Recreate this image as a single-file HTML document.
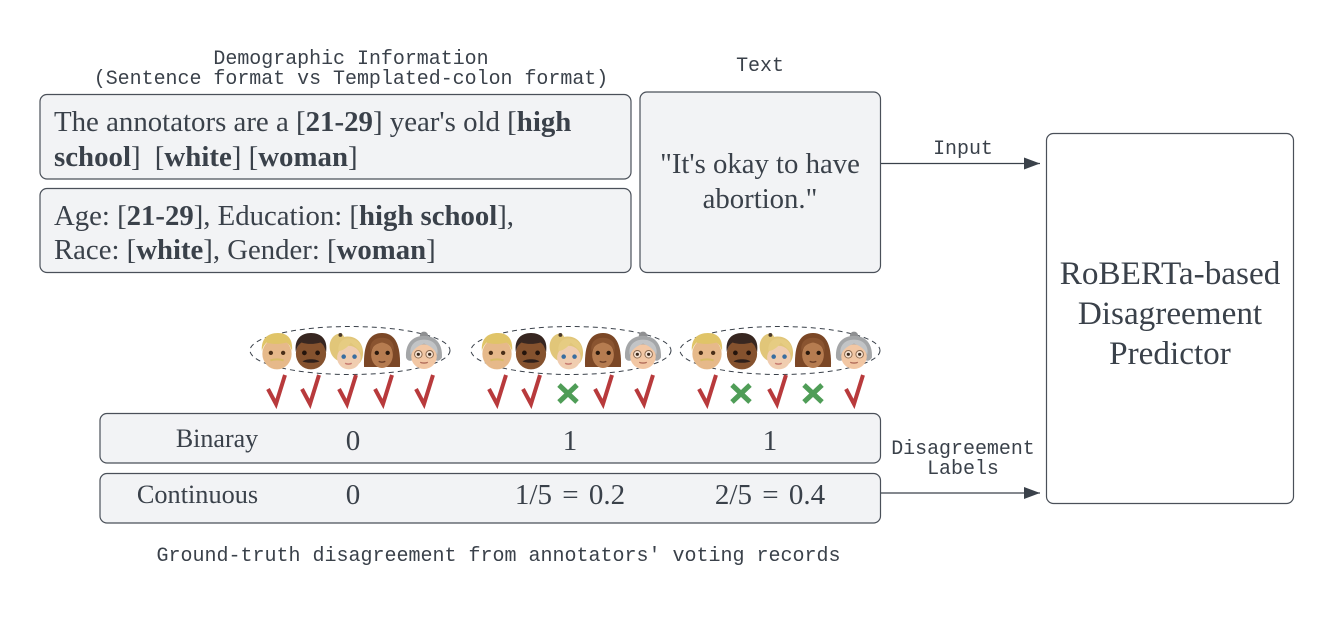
<!DOCTYPE html>
<html>
<head>
<meta charset="utf-8">
<style>
html,body{margin:0;padding:0;background:#fff;}
svg{display:block;}
.mono{font-family:"Liberation Mono",monospace;font-size:19.95px;fill:#3a414a;}
.serif{font-family:"Liberation Serif",serif;fill:#3a414a;}
.box{fill:#f2f3f5;stroke:#4a5059;stroke-width:1.2;}
.b{font-weight:bold;}
</style>
</head>
<body>
<svg id="diagram" width="1333" height="621" viewBox="0 0 1333 621" xmlns="http://www.w3.org/2000/svg">
<defs>
<symbol id="face-0" viewBox="0 0 36 40" overflow="visible">
  <ellipse cx="18" cy="23" rx="15.500" ry="16.500" fill="#e6b98a"/>
  <path d="M2 20C1 7 8 1 19 1S35 8 34 20C32 15 31 13 28 11 22 13 12 13 7 11 5 13 3 16 2 20Z" fill="#e0c468"/>
  <circle cx="11.500" cy="22" r="2.300" fill="#4a2f18"/><circle cx="24.500" cy="22" r="2.300" fill="#4a2f18"/>
  <path d="M11 30c4-1.500 10-1.500 14 0" stroke="#d8bc66" stroke-width="2.200" fill="none"/>
</symbol>
<symbol id="face-1" viewBox="0 0 36 40" overflow="visible">
  <ellipse cx="18" cy="23" rx="16" ry="16.500" fill="#85522e"/>
  <path d="M2 21C0 7 8 1 18 1s18 6 16 20C32 15 31 13 28 11 22 13 13 13 8 11 5 13 3 16 2 21Z" fill="#372620"/>
  <circle cx="11" cy="22" r="2.500" fill="#24140c"/><circle cx="25" cy="22" r="2.500" fill="#24140c"/>
  <path d="M9 31c4-3 14-3 18 0-4 2-14 2-18 0Z" fill="#2f201a"/>
</symbol>
<symbol id="face-2" viewBox="0 0 36 40" overflow="visible">
  <path d="M0 19C-2 9 4 3 8 2 12 0 14 3 15 5 26 3 35 10 35 22 35 30 31 34 29 34L8 30C4 28 1 24 0 19Z" fill="#e1c679"/>
  <ellipse cx="20" cy="27" rx="12.500" ry="12.500" fill="#f0cdb0"/>
  <path d="M9 20C14 20 20 15 22 11 26 15 31 18 33 23 36 12 26 5 16 7 11 9 8 14 9 20Z" fill="#e6cc82"/>
  <circle cx="14.500" cy="26" r="2.400" fill="#3a6ea0"/><circle cx="26" cy="26" r="2.400" fill="#3a6ea0"/>
  <path d="M16 33c2 1.200 5 1.200 7 0" stroke="#c87b70" stroke-width="1.500" fill="none"/>
  <circle cx="11" cy="3" r="2" fill="#4a3a2a"/>
</symbol>
<symbol id="face-3" viewBox="0 0 36 40" overflow="visible">
  <path d="M-1 37C-2 12 5 1 18 1s20 11 19 36Z" fill="#7b4726"/>
  <ellipse cx="18" cy="24" rx="11.500" ry="14" fill="#b67c50"/>
  <path d="M6 21C8 14 13 12 18 11c5 1 10 3 12 10 2-9-3-15-12-15S4 12 6 21Z" fill="#8a5430"/>
  <circle cx="12.500" cy="22" r="2.300" fill="#2b1a0e"/><circle cx="24" cy="22" r="2.300" fill="#2b1a0e"/>
  <path d="M14.500 31c2 1 5 1 7 0" stroke="#6a3d26" stroke-width="1.500" fill="none"/>
</symbol>
<symbol id="face-4" viewBox="0 0 36 40" overflow="visible">
  <circle cx="18" cy="4" r="4.500" fill="#8f9092"/>
  <path d="M-1 27C-2 12 6 4 18 4s20 8 19 23c-2 3-4 4-6 3H5C3 31 0 30-1 27Z" fill="#a4a6a8"/>
  <ellipse cx="18" cy="26" rx="13.500" ry="13" fill="#f2c7a4"/>
  <path d="M4 24C7 17 13 14 18 12c5 2 11 5 14 12 2-8-3-16-14-16S2 16 4 24Z" fill="#c2c4c6"/>
  <circle cx="12" cy="23.500" r="4" fill="#f8e4d4" stroke="#8a6a50"/><circle cx="24" cy="23.500" r="4" fill="#f8e4d4" stroke="#8a6a50"/>
  <circle cx="12" cy="23.500" r="1.700" fill="#3a2a1e"/><circle cx="24" cy="23.500" r="1.700" fill="#3a2a1e"/>
  <path d="M14 32c2 1 6 1 8 0" stroke="#b06a58" stroke-width="1.400" fill="none"/>
</symbol>
<marker id="arrow-head" viewBox="0 0 16 12" refX="16" refY="6" markerWidth="16" markerHeight="12" markerUnits="userSpaceOnUse" orient="auto">
  <path d="M0 0L16 6L0 12Z" fill="#3a414a"/>
</marker>
</defs>

<text class="mono" x="351" y="64" text-anchor="middle">Demographic Information</text>
<text class="mono" x="351" y="84" text-anchor="middle">(Sentence format vs Templated-colon format)</text>
<text class="mono" x="760" y="71" text-anchor="middle">Text</text>

<rect class="box" x="40" y="94.500" width="591" height="84.500" rx="7"/>
<text class="serif" x="54" y="131" font-size="28.860">The annotators are a [<tspan class="b">21-29</tspan>] year's old [<tspan class="b">high</tspan></text>
<text class="serif" x="54" y="166" font-size="28.860"><tspan class="b">school</tspan>]  <tspan dx="7">[</tspan><tspan class="b">white</tspan>] [<tspan class="b">woman</tspan>]</text>

<rect class="box" x="40" y="188.500" width="591" height="84" rx="7"/>
<text class="serif" x="54" y="225" font-size="28.750">Age: [<tspan class="b">21-29</tspan>], Education: [<tspan class="b">high school</tspan>],</text>
<text class="serif" x="54" y="259" font-size="28.750">Race: [<tspan class="b">white</tspan>], Gender: [<tspan class="b">woman</tspan>]</text>

<rect class="box" x="640" y="92" width="240.500" height="180.500" rx="7"/>
<text class="serif" x="760" y="173" font-size="28.750" text-anchor="middle">"It's okay to have</text>
<text class="serif" x="760" y="208" font-size="28.750" text-anchor="middle">abortion."</text>

<line x1="881" y1="163.500" x2="1040" y2="163.500" stroke="#3a414a" stroke-width="1.200" marker-end="url(#arrow-head)"/>
<text class="mono" x="963" y="154" text-anchor="middle">Input</text>

<rect x="1046.500" y="133.500" width="247" height="370" rx="7" fill="#fff" stroke="#4a5059" stroke-width="1.200"/>
<text class="serif" x="1170" y="284" font-size="33.200" text-anchor="middle">RoBERTa-based</text>
<text class="serif" x="1170" y="324" font-size="33.200" text-anchor="middle">Disagreement</text>
<text class="serif" x="1170" y="364" font-size="33.200" text-anchor="middle">Predictor</text>

<g id="voters"></g>

<rect class="box" x="100" y="413.500" width="780.500" height="49.500" rx="7"/>
<text class="serif" x="217" y="447" font-size="26" text-anchor="middle">Binaray</text>
<rect class="box" x="100" y="473.500" width="780.500" height="49.500" rx="7"/>
<text class="serif" x="197.500" y="503" font-size="26.300" text-anchor="middle">Continuous</text>
<g id="row-values"></g>

<line x1="881" y1="493" x2="1040" y2="493" stroke="#3a414a" stroke-width="1.200" marker-end="url(#arrow-head)"/>
<text class="mono" x="963" y="454" text-anchor="middle">Disagreement</text>
<text class="mono" x="963" y="474" text-anchor="middle">Labels</text>

<text class="mono" x="498.500" y="561" text-anchor="middle" style="font-size:20px">Ground-truth disagreement from annotators' voting records</text>
</svg>
<script>
var voteGroupOne = [1, 1, 1, 1, 1];
var voteGroupTwo = [1, 1, 0, 1, 1];
var voteGroupThree = [1, 0, 1, 0, 1];
var binaryValues = ['0', '1', '1'];
var continuousValues = ['0', '1/5 = 0.2', '2/5 = 0.4'];

var NS = 'http://www.w3.org/2000/svg';
var voters = document.getElementById('voters');
var rowValues = document.getElementById('row-values');

function drawGroup(votes, cx, faceXs, markXs) {
  var oval = document.createElementNS(NS, 'ellipse');
  
  
  oval.setAttribute('cx', cx);
  oval.setAttribute('cy', 350.5);
  oval.setAttribute('rx', 100);
  oval.setAttribute('ry', 24);
  oval.setAttribute('fill', 'none');
  oval.setAttribute('stroke', '#3a414a');
  oval.setAttribute('stroke-width', 1);
  oval.setAttribute('stroke-dasharray', '5 4');
  voters.appendChild(oval);
  votes.forEach(function (v, i) {
    var face = document.createElementNS(NS, 'use');
    
    
    face.setAttribute('href', '#face-' + i);
    face.setAttribute('x', faceXs[i] - 17);
    face.setAttribute('y', 332);
    face.setAttribute('width', 34);
    face.setAttribute('height', 38);
    voters.appendChild(face);

    var mark = document.createElementNS(NS, 'path');
    var x = markXs[i];
    if (v) {
      
      mark.setAttribute('d', 'M' + (x - 9) + ' 389L' + (x - 1) + ' 404L' + (x + 8) + ' 375');
      mark.setAttribute('stroke', '#b83a3c');
      mark.setAttribute('stroke-width', 4);
    } else {
      
      mark.setAttribute('d', 'M' + (x - 9) + ' 385L' + (x + 9) + ' 402M' + (x + 9) + ' 385L' + (x - 9) + ' 402');
      mark.setAttribute('stroke', '#4f9d57');
      mark.setAttribute('stroke-width', 5);
    }
    
    mark.setAttribute('fill', 'none');
    voters.appendChild(mark);
  });
}

drawGroup(voteGroupOne, 350, [277, 311, 347, 382, 424], [277, 311, 348, 384, 425]);
drawGroup(voteGroupTwo, 571, [497, 531, 567, 603, 643], [498, 532, 568, 604, 645]);
drawGroup(voteGroupThree, 780, [707, 742, 777, 813, 854], [708, 741, 778, 813, 855]);

var columnXs = [353, 570, 770];
binaryValues.forEach(function (t, i) {
  var el = document.createElementNS(NS, 'text');
  
  
  el.setAttribute('class', 'serif');
  el.setAttribute('x', columnXs[i]);
  el.setAttribute('y', 450);
  el.setAttribute('font-size', 29);
  el.setAttribute('text-anchor', 'middle');
  el.textContent = t;
  rowValues.appendChild(el);
});
continuousValues.forEach(function (t, i) {
  var el = document.createElementNS(NS, 'text');
  
  
  el.setAttribute('class', 'serif');
  el.setAttribute('x', columnXs[i]);
  el.setAttribute('y', 504);
  el.setAttribute('font-size', 29);
  el.setAttribute('word-spacing', 3);
  el.setAttribute('text-anchor', 'middle');
  el.textContent = t;
  rowValues.appendChild(el);
});
</script>
</body>
</html>
